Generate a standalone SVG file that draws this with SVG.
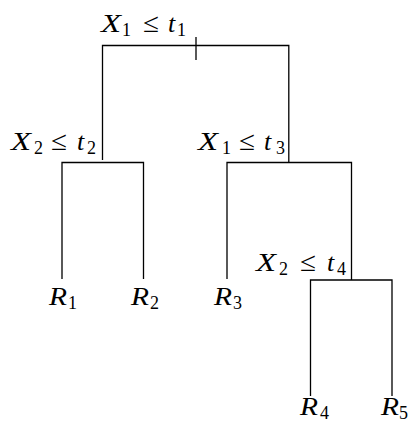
<svg xmlns="http://www.w3.org/2000/svg" width="409" height="427" viewBox="0 0 409 427">
<style>
.ln{fill:none;stroke:#000;stroke-width:1.3}
text{font-family:"Liberation Serif",serif;fill:#000}
.m{font-size:26px;font-style:italic}
.r{font-size:27px}
.s{font-size:18px}
</style>
<rect width="409" height="427" fill="#fff"/>
<g id="connectors">
<path class="ln" d="M102.5 160V45.5H288.8V162.5M196 37V60"/>
<path class="ln" d="M62 279V162.5H143.5V279"/>
<path class="ln" d="M227 279V162.5H351.5V280"/>
<path class="ln" d="M310.5 396V280H392V396"/>
</g>
<g id="node-root">
<text class="m" x="101" y="32" textLength="20" lengthAdjust="spacingAndGlyphs">X</text><text class="s" x="122" y="36">1</text>
<text class="r" x="143" y="32" textLength="16" lengthAdjust="spacingAndGlyphs">≤</text>
<text class="m" x="168" y="32">t</text><text class="s" x="177" y="36">1</text>
</g>
<g id="node-x2t2">
<text class="m" x="11" y="150" textLength="20" lengthAdjust="spacingAndGlyphs">X</text><text class="s" x="34" y="154">2</text>
<text class="r" x="51" y="150" textLength="16" lengthAdjust="spacingAndGlyphs">≤</text>
<text class="m" x="77" y="150">t</text><text class="s" x="87" y="154">2</text>
</g>
<g id="node-x1t3">
<text class="m" x="198" y="150" textLength="20" lengthAdjust="spacingAndGlyphs">X</text><text class="s" x="222" y="154">1</text>
<text class="r" x="239" y="150" textLength="16" lengthAdjust="spacingAndGlyphs">≤</text>
<text class="m" x="264" y="150">t</text><text class="s" x="276" y="154">3</text>
</g>
<g id="node-x2t4">
<text class="m" x="256" y="271" textLength="20" lengthAdjust="spacingAndGlyphs">X</text><text class="s" x="279" y="275">2</text>
<text class="r" x="300" y="271" textLength="16" lengthAdjust="spacingAndGlyphs">≤</text>
<text class="m" x="327" y="271">t</text><text class="s" x="337" y="275">4</text>
</g>
<g id="leaf-r1"><text class="m" x="49" y="305" textLength="18" lengthAdjust="spacingAndGlyphs">R</text><text class="s" x="68" y="309">1</text></g>
<g id="leaf-r2"><text class="m" x="131" y="305" textLength="18" lengthAdjust="spacingAndGlyphs">R</text><text class="s" x="150" y="309">2</text></g>
<g id="leaf-r3"><text class="m" x="214" y="305" textLength="18" lengthAdjust="spacingAndGlyphs">R</text><text class="s" x="233" y="309">3</text></g>
<g id="leaf-r4"><text class="m" x="300" y="415" textLength="18" lengthAdjust="spacingAndGlyphs">R</text><text class="s" x="320" y="419">4</text></g>
<g id="leaf-r5"><text class="m" x="381" y="415" textLength="18" lengthAdjust="spacingAndGlyphs">R</text><text class="s" x="399" y="419">5</text></g>
</svg>
